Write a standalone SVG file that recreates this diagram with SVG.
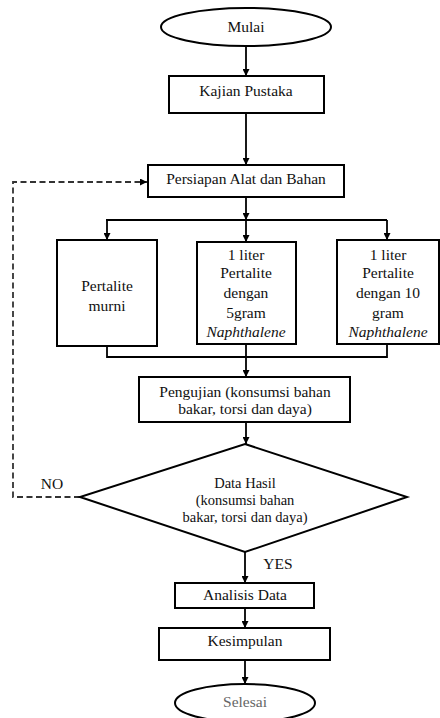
<svg xmlns="http://www.w3.org/2000/svg" width="440" height="718" viewBox="0 0 440 718">
<style>
.s{fill:#fff;stroke:#000;stroke-width:2}
.t{font-family:"Liberation Serif",Tinos,"Times New Roman",Times,"DejaVu Serif",serif;font-size:15.5px;fill:#111;text-anchor:middle}
.i{font-style:italic}
.m{font-size:14.5px}
.c{fill:none;stroke:#000;stroke-width:1.8}
.d{fill:none;stroke:#333;stroke-width:1.8;stroke-dasharray:6,3.5}
</style>
<defs>
<marker id="a" viewBox="0 0 10 10" refX="10" refY="5" markerWidth="7" markerHeight="7" markerUnits="userSpaceOnUse" orient="auto">
<path d="M0,0 L10,5 L0,10 z" fill="#000"/>
</marker>
</defs>
<rect width="440" height="718" fill="#fff"/>
<g id="connectors">
<line class="c" x1="246" y1="47" x2="246" y2="76" marker-end="url(#a)"/>
<line class="c" x1="246" y1="113" x2="246" y2="165" marker-end="url(#a)"/>
<line class="c" x1="246" y1="197" x2="246" y2="220" marker-end="url(#a)"/>
<polyline class="c" points="106,220 387,220"/>
<line class="c" x1="107" y1="220" x2="107" y2="240" marker-end="url(#a)"/>
<line class="c" x1="246" y1="220" x2="246" y2="242" marker-end="url(#a)"/>
<line class="c" x1="387" y1="220" x2="387" y2="240" marker-end="url(#a)"/>
<polyline class="c" points="107,346 107,357 387,357 387,344"/>
<line class="c" x1="246" y1="344" x2="246" y2="377" marker-end="url(#a)"/>
<line class="c" x1="246" y1="422" x2="246" y2="444" marker-end="url(#a)"/>
<line class="c" x1="245" y1="552" x2="245" y2="583" marker-end="url(#a)"/>
<line class="c" x1="245" y1="608" x2="245" y2="628" marker-end="url(#a)"/>
<line class="c" x1="245" y1="660" x2="245" y2="684" marker-end="url(#a)"/>
<polyline class="d" points="80,497 13,497 13,182 147,182" marker-end="url(#a)"/>
<text class="t" x="52" y="489">NO</text>
<text class="t" x="278" y="569">YES</text>
</g>
<g id="mulai">
<ellipse class="s" cx="246" cy="27" rx="85" ry="19"/>
<text class="t" x="246" y="32">Mulai</text>
</g>
<g id="kajian">
<rect class="s" x="169" y="76" width="155" height="37"/>
<text class="t" x="246" y="96">Kajian Pustaka</text>
</g>
<g id="persiapan">
<rect class="s" x="148" y="165" width="196" height="32"/>
<text class="t" x="246" y="184">Persiapan Alat dan Bahan</text>
</g>
<g id="murni">
<rect class="s" x="57" y="240" width="100" height="106"/>
<text class="t" x="107" y="291">Pertalite</text>
<text class="t" x="107" y="311">murni</text>
</g>
<g id="lima">
<rect class="s" x="197" y="242" width="99" height="102"/>
<text class="t" x="246" y="260">1 liter</text>
<text class="t" x="246" y="278">Pertalite</text>
<text class="t" x="246" y="298">dengan</text>
<text class="t" x="246" y="318">5gram</text>
<text class="t i" x="246" y="337">Naphthalene</text>
</g>
<g id="sepuluh">
<rect class="s" x="337" y="240" width="102" height="104"/>
<text class="t" x="388" y="260">1 liter</text>
<text class="t" x="388" y="278">Pertalite</text>
<text class="t" x="388" y="298">dengan 10</text>
<text class="t" x="388" y="318">gram</text>
<text class="t i" x="388" y="337">Naphthalene</text>
</g>
<g id="pengujian">
<rect class="s" x="139" y="377" width="211" height="45"/>
<text class="t" x="245" y="397">Pengujian (konsumsi bahan</text>
<text class="t" x="245" y="414">bakar, torsi dan daya)</text>
</g>
<g id="datahasil">
<polygon class="s" points="245,444 407,497 245,552 80,497"/>
<text class="t m" x="245" y="488">Data Hasil</text>
<text class="t m" x="245" y="505">(konsumsi bahan</text>
<text class="t m" x="245" y="522">bakar, torsi dan daya)</text>
</g>
<g id="analisis">
<rect class="s" x="175" y="583" width="139" height="25"/>
<text class="t" x="245" y="600">Analisis Data</text>
</g>
<g id="kesimpulan">
<rect class="s" x="159" y="628" width="171" height="32"/>
<text class="t" x="245" y="646">Kesimpulan</text>
</g>
<g id="selesai">
<ellipse class="s" cx="245" cy="703" rx="70" ry="19"/>
<text class="t" x="245" y="707" style="fill:#666">Selesai</text>
</g>
</svg>
